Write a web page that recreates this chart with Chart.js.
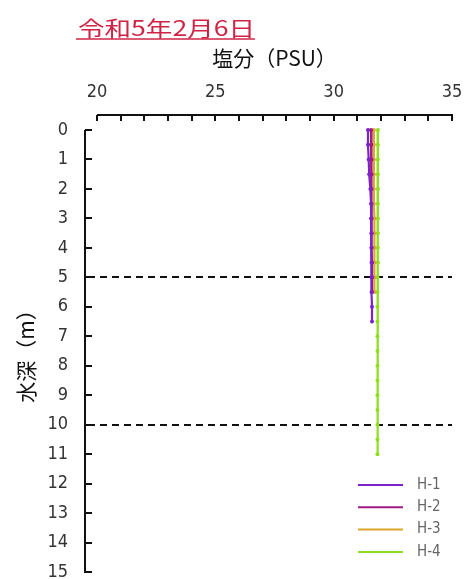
<!DOCTYPE html>
<html>
<head>
<meta charset="utf-8">
<script src="https://cdn.jsdelivr.net/npm/chart.js@4/dist/chart.umd.min.js"></script>
<style>
  html, body { margin: 0; padding: 0; background: #fff; }
  canvas { display: block; }
</style>
</head>
<body>
<canvas id="c" width="464" height="579"></canvas>
<script>
// Labels
const chartTitle = '令和5年2月6日';
const xAxisTitle = '塩分（PSU）';
const yAxisTitle = '水深（m）';

// Series names and colours
const seriesNames = ['H-1', 'H-2', 'H-3', 'H-4'];
const seriesColors = ['#7a22cc', '#a11a82', '#dba62c', '#8fdf1f'];

// Depth (m) of each reading, per station
const depthH1 = [0, 0.5, 1, 1.5, 2, 2.5, 3, 3.5, 4, 4.5, 5, 5.5, 6, 6.5];
const depthH2 = [0, 0.5, 1, 1.5, 2, 2.5, 3, 3.5, 4, 4.5, 5, 5.5];
const depthH3 = [0, 0.5, 1, 1.5, 2, 2.5, 3, 3.5, 4, 4.5, 5, 5.5];
const depthH4 = [0, 0.5, 1, 1.5, 2, 2.5, 3, 3.5, 4, 4.5, 5, 5.5, 6, 6.5, 7, 7.5, 8, 8.5, 9, 9.5, 10, 10.5, 11];

// Salinity (PSU) at those depths
const salH1 = [31.45, 31.45, 31.48, 31.5, 31.55, 31.58, 31.58, 31.6, 31.6, 31.6, 31.6, 31.6, 31.62, 31.62];
const salH2 = [31.58, 31.58, 31.6, 31.6, 31.6, 31.6, 31.6, 31.6, 31.6, 31.62, 31.62, 31.62];
const salH3 = [31.7, 31.7, 31.7, 31.7, 31.7, 31.7, 31.72, 31.72, 31.72, 31.72, 31.72, 31.72];
const salH4 = [31.87, 31.87, 31.87, 31.87, 31.87, 31.87, 31.87, 31.87, 31.87, 31.87, 31.85, 31.85,
               31.85, 31.85, 31.85, 31.85, 31.85, 31.85, 31.85, 31.85, 31.85, 31.85, 31.85];

// Axis ranges and reference depths
const xMin = 20, xMax = 35, xLabelStep = 5;
const yMin = 0, yMax = 15;
const refDepths = [5, 10];

const depths = [depthH1, depthH2, depthH3, depthH4];
const salinities = [salH1, salH2, salH3, salH4];

const tickFont = "'Liberation Sans Narrow', 'DejaVu Sans Condensed', sans-serif";
const cjkFont = "'Noto Sans CJK JP', sans-serif";

const datasets = seriesNames.map((name, i) => ({
  label: name,
  data: depths[i].map((d, k) => ({ x: salinities[i][k], y: d })),
  borderColor: seriesColors[i],
  backgroundColor: seriesColors[i],
  borderWidth: 2.2,
  pointRadius: 2,
  pointBorderWidth: 0,
  showLine: true,
  clip: false
}));

// Axis lines drawn apart from the plot area, dashed depth markers, legend and heading
const framePlugin = {
  id: 'frame',
  beforeDatasetsDraw(chart) {
    const { ctx, chartArea, scales: { y } } = chart;
    ctx.save();
    ctx.strokeStyle = '#111';
    ctx.lineWidth = 2;
    ctx.setLineDash([7, 5]);
    refDepths.forEach(d => {
      const py = Math.round(y.getPixelForValue(d));
      ctx.beginPath();
      ctx.moveTo(chartArea.left - 9, py);
      ctx.lineTo(chartArea.right, py);
      ctx.stroke();
    });
    ctx.restore();
  },
  afterDraw(chart) {
    const { ctx, chartArea, scales: { x, y } } = chart;
    ctx.save();
    ctx.strokeStyle = '#111';
    ctx.lineWidth = 2;
    ctx.setLineDash([]);

    // top salinity axis
    const ax = chartArea.top - 15;
    ctx.beginPath();
    ctx.moveTo(x.getPixelForValue(xMin), ax);
    ctx.lineTo(x.getPixelForValue(xMax) + 1, ax);
    x.ticks.forEach(t => {
      const px = Math.round(x.getPixelForValue(t.value));
      ctx.moveTo(px, ax);
      ctx.lineTo(px, ax + 6);
    });
    ctx.stroke();

    // left depth axis
    const ay = chartArea.left - 12;
    ctx.beginPath();
    ctx.moveTo(ay, y.getPixelForValue(yMin));
    ctx.lineTo(ay, y.getPixelForValue(yMax) + 1);
    y.ticks.forEach(t => {
      const py = Math.round(y.getPixelForValue(t.value));
      ctx.moveTo(ay, py);
      ctx.lineTo(ay + 7, py);
    });
    ctx.stroke();

    // legend
    const lx0 = chartArea.right - 94, lx1 = chartArea.right - 49;
    ctx.font = "15px " + tickFont;
    ctx.textBaseline = 'middle';
    ctx.textAlign = 'left';
    chart.data.datasets.forEach((ds, i) => {
      const ly = 485 + i * 22.3;
      ctx.strokeStyle = ds.borderColor;
      ctx.lineWidth = 2;
      ctx.beginPath();
      ctx.moveTo(lx0, ly);
      ctx.lineTo(lx1, ly);
      ctx.stroke();
      ctx.fillStyle = '#666';
      ctx.fillText(ds.label, chartArea.right - 35, ly);
    });

    // heading, underlined
    ctx.font = "21px " + cjkFont;
    ctx.fillStyle = '#cf2446';
    ctx.textBaseline = 'middle';
    const w = ctx.measureText(chartTitle).width;
    const target = 177;
    ctx.save();
    ctx.translate(78, 28);
    ctx.scale(target / w, 1);
    ctx.fillText(chartTitle, 0, 0);
    ctx.restore();
    ctx.strokeStyle = '#cf2446';
    ctx.lineWidth = 1.5;
    ctx.beginPath();
    ctx.moveTo(76, 39);
    ctx.lineTo(78 + target, 39);
    ctx.stroke();
    ctx.restore();
  }
};

new Chart(document.getElementById('c'), {
  type: 'scatter',
  data: { datasets },
  options: {
    responsive: false,
    devicePixelRatio: 1,
    animation: false,
    layout: { padding: { top: 0, left: 0, right: 12, bottom: 7 } },
    plugins: { legend: { display: false }, tooltip: { enabled: false } },
    scales: {
      x: {
        type: 'linear',
        position: 'top',
        min: xMin,
        max: xMax,
        grid: { display: false, drawTicks: false },
        border: { display: false },
        ticks: {
          stepSize: 1,
          autoSkip: false,
          maxRotation: 0,
          padding: 27,
          color: '#333',
          font: { family: tickFont, size: 18 },
          callback: v => (v % xLabelStep === 0 ? String(v) : '')
        },
        title: {
          display: true,
          text: xAxisTitle,
          color: '#111',
          font: { family: cjkFont, size: 21 },
          padding: { top: 45, bottom: 0 }
        },
        afterFit(scale) {
          scale.height = 130;
          scale.paddingLeft = 0;
          scale.paddingRight = 0;
        }
      },
      y: {
        type: 'linear',
        position: 'left',
        reverse: true,
        min: yMin,
        max: yMax,
        grid: { display: false, drawTicks: false },
        border: { display: false },
        ticks: {
          stepSize: 1,
          autoSkip: false,
          padding: 29,
          color: '#333',
          font: { family: tickFont, size: 18 }
        },
        title: {
          display: true,
          text: yAxisTitle,
          color: '#111',
          font: { family: cjkFont, size: 21 },
          padding: { top: 13, bottom: 0 }
        },
        afterFit(scale) {
          scale.width = 97;
          scale.paddingTop = 0;
          scale.paddingBottom = 0;
        }
      }
    }
  },
  plugins: [framePlugin]
});
</script>
</body>
</html>
